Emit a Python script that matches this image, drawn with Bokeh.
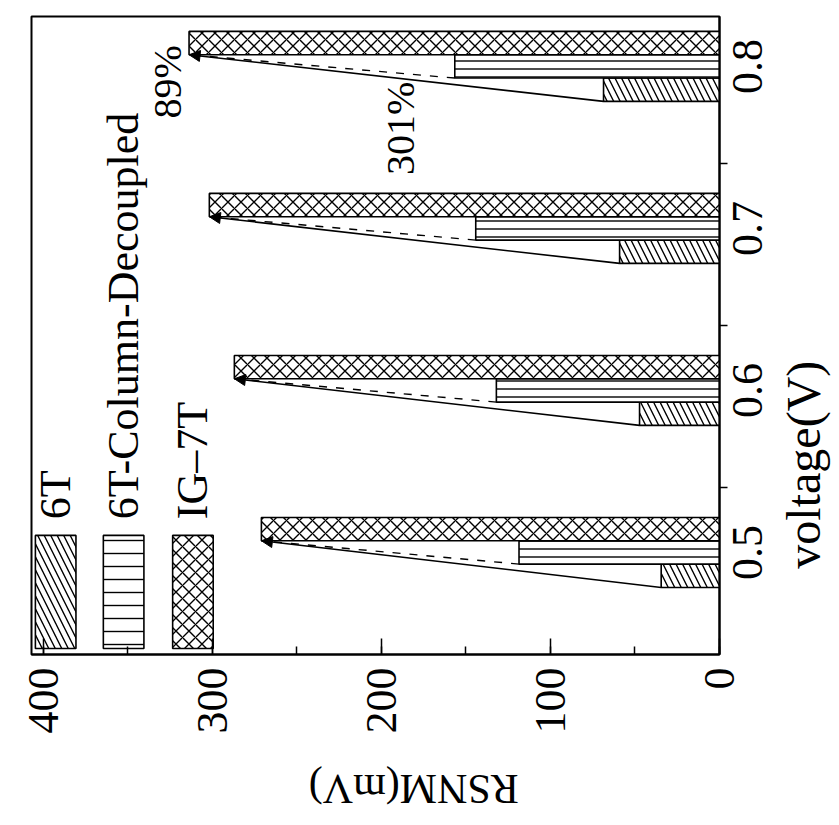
import math
from bokeh.plotting import figure
from bokeh.models import (Range1d, FixedTicker, SingleIntervalTicker, Arrow,
                          NormalHead, ColumnDataSource, LinearAxis)
from bokeh.core.properties import value
from bokeh.embed import file_html
from bokeh.resources import INLINE

# ---------------- data ----------------
volts = [0.5, 0.6, 0.7, 0.8]
rsnm_6t = [34.5, 47.3, 59.1, 68.6]
rsnm_6t_cd = [118.6, 132.0, 144.2, 156.6]
rsnm_ig7t = [271.0, 287.0, 301.8, 313.8]
series_names = ["6T", "6T-Column-Decoupled", "IG\u20137T"]
pct_labels = ["301%", "89%"]
x_title = "RSNM(mV)"
y_title = "voltage(V)"

# ---------------- layout / style ----------------
FONT = "Liberation Serif"
W = 0.0144                     # bar thickness in voltage units
Y0, Y1 = 0.437, 0.8308
LAB_SHIFT = 0.017              # centres the rotated tick labels on their groups
legend_centers = [392.7, 352.5, 311.5]
legend_half = 12.0
legend_bottom, legend_top, legend_text_y = 0.4407, 0.5105, 0.5205
pct_x = [188.5, 326.8]
pct_y = [0.7617, 0.7904]
x_title_pos = 243.0            # where the (upside-down) x title is anchored
y_title_pos = 0.490            # where the (upward) y title starts


def plain_axis(ax):
    ax.axis_line_color = None
    ax.major_tick_in = 0
    ax.major_tick_out = 0
    ax.minor_tick_in = 0
    ax.minor_tick_out = 0
    ax.major_label_text_font = FONT
    ax.major_label_text_color = "black"


p = figure(frame_width=688, frame_height=638,
           x_range=Range1d(407, 0), y_range=Range1d(Y0, Y1),
           y_axis_location="right", output_backend="svg", toolbar_location=None,
           min_border_left=31, min_border_top=16, min_border_right=116,
           min_border_bottom=166, background_fill_color="white",
           border_fill_color="white")
p.xgrid.visible = False
p.ygrid.visible = False
p.outline_line_color = "black"
p.outline_line_width = 2
p.outline_line_alpha = 1

bar_kw = dict(fill_color="white", line_color="black", line_width=1.6,
              hatch_color="black", hatch_weight=1.4)

p.hbar(y=[v - W for v in volts], height=W, left=0, right=rsnm_6t,
       hatch_pattern="\\", hatch_scale=13, **bar_kw)
p.hbar(y=volts, height=W, left=0, right=rsnm_6t_cd,
       hatch_pattern="-", hatch_scale=8, **bar_kw)
p.hbar(y=[v + W for v in volts], height=W, left=0, right=rsnm_ig7t,
       hatch_pattern="x", hatch_scale=13, **bar_kw)

# comparison lines
p.segment(x0=rsnm_6t_cd, y0=[v - 0.5 * W for v in volts],
          x1=rsnm_ig7t, y1=[v + 0.5 * W for v in volts],
          line_color="black", line_width=1.4, line_dash="8 9")
arr_src = ColumnDataSource(dict(
    xs=rsnm_6t, ys=[v - 1.5 * W for v in volts],
    xe=rsnm_ig7t, ye=[v + 0.5 * W for v in volts]))
p.add_layout(Arrow(end=NormalHead(size=11, fill_color="black", line_color="black"),
                   x_start="xs", y_start="ys", x_end="xe", y_end="ye",
                   source=arr_src, line_color="black", line_width=1.6))

# percentage annotations
p.text(x=pct_x, y=pct_y, text=pct_labels, angle=math.pi / 2,
       text_font=value(FONT), text_font_size="40px",
       text_align="center", text_baseline="middle", text_color="black")

# manual rotated legend
p.quad(left=[c + legend_half for c in legend_centers],
       right=[c - legend_half for c in legend_centers],
       bottom=legend_bottom, top=legend_top,
       fill_color="white", line_color="black", line_width=1.6,
       hatch_color="black", hatch_weight=1.4,
       hatch_pattern=["\\", "-", "x"], hatch_scale=13)
p.text(x=legend_centers, y=legend_text_y, text=series_names, angle=math.pi / 2,
       text_font=value(FONT), text_font_size="44px",
       text_align="left", text_baseline="middle", text_color="black")

# value axis (below)
xa = p.xaxis[0]
xa.ticker = SingleIntervalTicker(interval=100, num_minor_ticks=2)
xa.major_tick_in = 16
xa.major_tick_out = 0
xa.minor_tick_in = 8
xa.minor_tick_out = 0
xa.major_tick_line_width = 1.5
xa.minor_tick_line_width = 1.5
xa.axis_line_width = 2
xa.major_label_orientation = math.pi / 2
xa.major_label_standoff = 13
xa.major_label_text_font = FONT
xa.major_label_text_font_size = "44px"
xa.major_label_text_color = "black"

# x title (upside down, as in the original figure)
xt = LinearAxis(ticker=FixedTicker(ticks=[x_title_pos]),
                major_label_overrides={x_title_pos: x_title})
plain_axis(xt)
xt.major_label_orientation = math.pi
xt.major_label_standoff = 52
xt.major_label_text_font_size = "42px"
p.add_layout(xt, "below")

# voltage axis (right): group boundary ticks only
ya = p.yaxis[0]
ya.ticker = FixedTicker(ticks=[], minor_ticks=[v + 0.04 for v in volts])
ya.major_tick_in = 0
ya.major_tick_out = 0
ya.minor_tick_in = 0
ya.minor_tick_out = 8
ya.minor_tick_line_width = 1.5
ya.axis_line_width = 2
ya.major_label_standoff = 0

# voltage tick labels, centred on each group
p.extra_y_ranges = {"lab": Range1d(Y0 + LAB_SHIFT, Y1 + LAB_SHIFT)}
la = LinearAxis(y_range_name="lab", ticker=FixedTicker(ticks=volts))
plain_axis(la)
la.major_label_orientation = math.pi / 2
la.major_label_standoff = 20
la.major_label_text_font_size = "44px"
p.add_layout(la, "right")

# y title
yt = LinearAxis(ticker=FixedTicker(ticks=[y_title_pos]),
                major_label_overrides={y_title_pos: y_title})
plain_axis(yt)
yt.major_label_orientation = math.pi / 2
yt.major_label_standoff = 24
yt.major_label_text_font_size = "48px"
p.add_layout(yt, "right")

open("out.html", "w").write(file_html(p, INLINE))
